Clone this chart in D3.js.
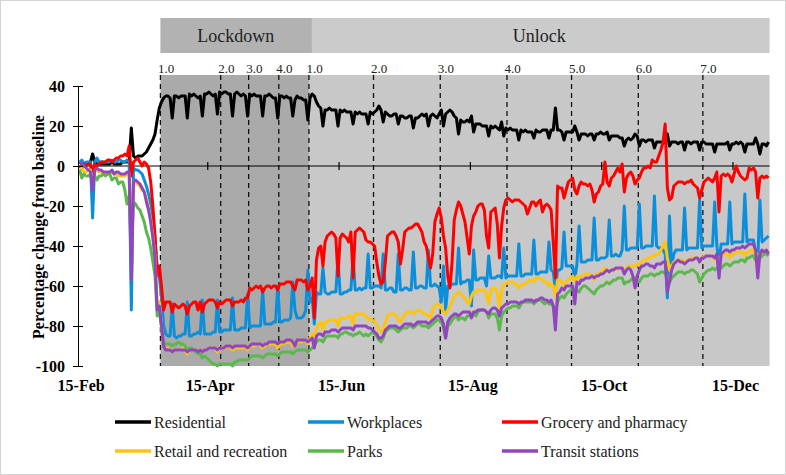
<!DOCTYPE html>
<html lang="en">
<head>
<meta charset="UTF-8">
<title>Mobility change from baseline, 2020</title>
<script src="https://d3js.org/d3.v7.min.js"></script>
<style>
  body { margin: 0; background: #fff; }
  svg { display: block; font-family: "Liberation Serif", "Times New Roman", serif; }
</style>
</head>
<body>
<div id="chart"></div>
<script>
// daily values from 15-Feb-2020, one row per week (Sat..Fri)
const startDate = "2020-02-15";

const residential = [
  1,2,1,1,1,2,6,
  2,1,1,1,1,1,1,
  1,2,1,1,1,1,2,
  2,2,3,19,5,4,5,
  5,5,6,7,9,11,13,
  16,23,29,32,34,35,35,
  34,24,35,35,34,35,35,
  35,24,36,35,36,35,34,
  35,25,36,36,37,36,35,
  36,26,37,36,37,37,36,
  36,25,36,37,36,35,36,
  35,25,36,35,36,35,35,
  35,25,35,35,36,35,34,
  34,24,35,35,34,35,34,
  34,25,33,35,34,34,33,
  33,23,34,36,35,32,30,
  29,20,28,28,29,28,28,
  28,20,28,27,28,27,27,
  27,21,27,26,27,26,26,
  26,21,27,26,27,28,30,
  28,22,27,26,25,25,26,
  26,21,25,25,24,24,25,
  25,19,24,24,25,26,25,
  26,20,25,26,25,24,26,
  28,20,26,27,28,27,25,
  24,16,23,22,22,23,22,
  25,17,21,21,21,20,20,
  20,15,20,19,20,19,18,
  22,15,19,18,19,18,18,
  18,13,18,17,18,17,17,
  17,14,18,17,17,18,18,
  18,14,18,18,29,18,18,
  17,13,17,17,17,17,20,
  17,13,16,16,16,15,16,
  16,13,16,16,17,16,16,
  17,13,15,15,15,15,14,
  14,10,13,14,13,14,16,
  15,10,13,13,12,13,13,
  13,9,12,12,12,12,13,
  16,10,12,12,12,11,12,
  12,8,12,12,11,12,12,
  12,8,12,12,11,11,11,
  11,7,11,11,11,11,11,
  12,8,11,11,12,11,12,
  11,7,11,11,11,11,14,
  11,6,11,11,10,12
];

const workplaces = [
  2,3,1,2,2,2,-26,
  2,4,2,2,2,2,2,
  2,3,2,2,3,3,2,
  2,3,2,-72,-1,-2,-2,
  -3,-4,-7,-10,-14,-19,-26,
  -36,-50,-55,-66,-80,-84,-85,
  -85,-69,-85,-86,-85,-85,-84,
  -84,-68,-85,-85,-84,-84,-83,
  -84,-67,-84,-84,-84,-84,-83,
  -83,-67,-83,-83,-82,-82,-82,
  -82,-66,-82,-82,-82,-81,-81,
  -81,-64,-81,-80,-80,-80,-80,
  -80,-62,-79,-79,-79,-79,-78,
  -78,-60,-78,-78,-77,-77,-77,
  -76,-58,-72,-76,-76,-76,-75,
  -72,-52,-68,-66,-79,-63,-64,
  -64,-51,-63,-64,-64,-63,-63,
  -63,-46,-64,-64,-63,-63,-62,
  -62,-45,-62,-62,-61,-62,-61,
  -61,-44,-61,-61,-60,-60,-60,
  -61,-44,-62,-62,-61,-61,-63,
  -63,-44,-62,-62,-61,-61,-62,
  -62,-43,-61,-61,-60,-60,-61,
  -61,-42,-60,-60,-59,-60,-61,
  -68,-50,-72,-60,-60,-59,-59,
  -59,-41,-59,-58,-58,-57,-57,
  -70,-42,-57,-57,-56,-56,-56,
  -60,-45,-56,-56,-56,-55,-55,
  -56,-41,-56,-55,-55,-55,-55,
  -55,-39,-55,-55,-54,-54,-54,
  -54,-37,-54,-54,-53,-53,-53,
  -53,-38,-52,-53,-62,-52,-52,
  -51,-33,-50,-50,-50,-50,-57,
  -49,-30,-48,-48,-48,-47,-47,
  -47,-26,-47,-47,-46,-46,-46,
  -45,-27,-45,-45,-44,-45,-45,
  -42,-20,-42,-42,-41,-41,-41,
  -41,-19,-41,-41,-40,-40,-40,
  -40,-15,-40,-41,-41,-42,-44,
  -66,-25,-50,-44,-42,-42,-42,
  -42,-21,-42,-41,-41,-41,-41,
  -41,-17,-41,-40,-40,-40,-40,
  -40,-18,-40,-48,-39,-39,-39,
  -39,-18,-39,-38,-38,-38,-38,
  -38,-14,-38,-37,-37,-37,-44,
  -48,-17,-38,-37,-36,-35
];

const grocery = [
  0,-1,1,0,1,1,-3,
  1,0,1,2,2,2,3,
  3,2,3,4,4,5,5,
  6,5,10,-5,2,3,4,
  2,0,2,1,-1,-8,-20,
  -35,-55,-50,-60,-72,-68,-68,
  -68,-73,-69,-70,-71,-70,-69,
  -70,-74,-70,-69,-68,-68,-72,
  -68,-73,-69,-68,-67,-67,-67,
  -68,-71,-68,-69,-68,-67,-67,
  -67,-70,-68,-68,-68,-67,-68,
  -66,-66,-61,-62,-61,-60,-61,
  -60,-63,-61,-60,-60,-61,-60,
  -60,-62,-59,-59,-59,-58,-58,
  -58,-60,-62,-57,-57,-57,-58,
  -57,-62,-60,-56,-76,-47,-41,
  -40,-50,-38,-35,-34,-33,-34,
  -36,-55,-36,-34,-35,-36,-38,
  -33,-56,-33,-32,-31,-32,-33,
  -37,-38,-38,-39,-40,-48,-55,
  -59,-58,-48,-35,-34,-33,-33,
  -35,-38,-49,-42,-33,-32,-31,
  -31,-30,-29,-29,-31,-33,-38,
  -40,-46,-51,-44,-28,-24,-21,
  -26,-35,-41,-55,-61,-48,-27,
  -22,-18,-20,-24,-28,-36,-44,
  -30,-25,-23,-20,-19,-19,-22,
  -35,-41,-23,-22,-21,-29,-46,
  -30,-21,-17,-16,-17,-18,-17,
  -17,-17,-18,-19,-20,-24,-21,
  -18,-18,-20,-18,-17,-23,-20,
  -19,-20,-22,-38,-56,-10,-11,
  -11,-16,-12,-8,-7,-6,-12,
  -14,-10,-8,-9,-9,-10,-9,
  -12,-18,-14,-13,-10,-9,2,
  -8,-10,-6,-5,-3,-1,-3,
  1,-13,-6,-4,-3,-5,-9,
  -7,-6,-3,-1,-1,0,-1,
  3,2,2,5,8,12,21,
  -11,-17,-16,-10,-9,-8,-8,
  -8,-9,-8,-8,-7,-9,-10,
  -11,-16,-12,-8,-7,-6,-7,
  -8,-6,-3,-23,-5,-4,-5,
  -4,-5,-8,-4,0,-3,-5,
  -6,-7,-6,-1,-2,-1,-3,
  -16,-6,-5,-6,-5,-6
];

const retail = [
  -2,-1,-3,-3,-2,-2,-8,
  -3,-2,-3,-3,-4,-4,-4,
  -4,-3,-4,-4,-5,-5,-5,
  -5,-4,-4,-42,-8,-8,-9,
  -10,-12,-13,-16,-21,-27,-35,
  -45,-70,-68,-80,-90,-91,-91,
  -92,-93,-92,-92,-92,-92,-91,
  -92,-94,-92,-92,-92,-92,-93,
  -92,-93,-92,-92,-91,-91,-91,
  -91,-93,-91,-91,-91,-91,-90,
  -91,-92,-91,-91,-91,-91,-91,
  -90,-92,-90,-90,-90,-89,-89,
  -90,-91,-90,-89,-89,-89,-89,
  -89,-91,-89,-89,-89,-88,-88,
  -88,-90,-90,-88,-88,-88,-87,
  -87,-89,-86,-84,-88,-81,-79,
  -78,-82,-78,-78,-77,-77,-77,
  -77,-80,-76,-76,-76,-76,-75,
  -75,-79,-74,-74,-74,-74,-74,
  -75,-77,-76,-77,-78,-79,-82,
  -83,-82,-78,-75,-74,-74,-74,
  -75,-77,-78,-76,-74,-73,-73,
  -73,-74,-73,-72,-72,-73,-74,
  -74,-75,-76,-72,-70,-69,-69,
  -71,-73,-74,-72,-70,-68,-65,
  -64,-63,-64,-65,-66,-68,-69,
  -65,-63,-63,-62,-62,-62,-62,
  -64,-69,-62,-61,-61,-63,-71,
  -62,-59,-59,-58,-58,-58,-59,
  -59,-61,-60,-59,-59,-58,-57,
  -57,-58,-56,-56,-56,-57,-58,
  -58,-60,-59,-60,-65,-57,-57,
  -58,-60,-58,-57,-56,-55,-58,
  -55,-56,-55,-55,-54,-54,-54,
  -55,-57,-54,-54,-53,-53,-51,
  -52,-53,-52,-52,-52,-51,-51,
  -51,-53,-51,-50,-50,-50,-50,
  -49,-50,-48,-47,-47,-46,-46,
  -45,-45,-44,-44,-42,-40,-38,
  -46,-52,-50,-48,-48,-48,-47,
  -47,-49,-47,-47,-46,-46,-46,
  -46,-48,-46,-45,-45,-45,-45,
  -45,-47,-45,-52,-45,-44,-44,
  -44,-46,-44,-44,-43,-43,-43,
  -43,-45,-43,-43,-42,-42,-48,
  -44,-45,-43,-43,-42,-43
];

const parks = [
  -2,-6,-4,-5,-5,-4,-8,
  -5,-7,-5,-5,-4,-5,-4,
  -4,-7,-6,-6,-9,-8,-8,
  -12,-19,-15,-40,-18,-19,-21,
  -22,-25,-28,-33,-36,-41,-48,
  -55,-75,-72,-80,-88,-89,-89,
  -89,-90,-89,-89,-88,-89,-89,
  -90,-92,-91,-91,-92,-93,-94,
  -94,-96,-95,-96,-97,-98,-99,
  -99,-100,-99,-99,-99,-99,-99,
  -99,-100,-98,-98,-97,-97,-97,
  -97,-97,-96,-95,-95,-95,-95,
  -95,-96,-95,-94,-94,-94,-94,
  -94,-95,-94,-93,-93,-93,-93,
  -93,-94,-93,-92,-92,-92,-92,
  -92,-93,-92,-91,-90,-88,-87,
  -87,-88,-86,-85,-85,-85,-85,
  -85,-86,-84,-84,-83,-83,-84,
  -84,-85,-84,-84,-83,-84,-85,
  -84,-85,-84,-83,-84,-85,-87,
  -88,-86,-83,-82,-81,-81,-81,
  -82,-83,-82,-81,-81,-81,-80,
  -80,-81,-80,-79,-79,-80,-80,
  -80,-81,-80,-79,-78,-77,-77,
  -78,-81,-86,-80,-79,-77,-76,
  -75,-77,-76,-76,-77,-75,-75,
  -74,-74,-75,-73,-72,-72,-72,
  -73,-76,-74,-74,-74,-76,-82,
  -75,-73,-72,-71,-71,-70,-70,
  -70,-71,-69,-68,-68,-68,-68,
  -68,-69,-68,-67,-67,-68,-69,
  -68,-69,-69,-70,-74,-68,-66,
  -65,-66,-64,-63,-62,-61,-64,
  -62,-63,-61,-60,-60,-61,-62,
  -63,-64,-62,-61,-60,-60,-59,
  -58,-59,-58,-57,-57,-56,-56,
  -56,-59,-58,-58,-57,-56,-56,
  -57,-58,-56,-55,-55,-55,-54,
  -54,-55,-54,-54,-53,-53,-54,
  -55,-58,-56,-55,-54,-53,-53,
  -53,-54,-53,-53,-52,-52,-53,
  -54,-58,-56,-54,-53,-52,-52,
  -51,-52,-51,-50,-51,-50,-49,
  -49,-50,-49,-48,-48,-48,-47,
  -47,-48,-46,-46,-45,-45,-47,
  -45,-46,-45,-44,-44,-45
];

const transit = [
  2,1,0,-1,-2,-3,-12,
  -2,-1,-2,-2,-3,-3,-3,
  -3,-2,-4,-3,-3,-4,-4,
  -4,-3,-3,-57,-8,-7,-8,
  -9,-11,-13,-18,-22,-28,-36,
  -46,-72,-70,-80,-90,-92,-92,
  -92,-93,-92,-92,-92,-92,-92,
  -92,-93,-92,-92,-92,-92,-93,
  -92,-93,-92,-92,-91,-91,-91,
  -91,-92,-91,-91,-91,-90,-90,
  -90,-91,-90,-90,-90,-90,-90,
  -90,-91,-90,-89,-89,-89,-89,
  -89,-90,-89,-89,-88,-88,-88,
  -88,-89,-88,-88,-88,-87,-87,
  -87,-88,-90,-87,-87,-87,-87,
  -87,-88,-87,-86,-91,-85,-84,
  -84,-85,-83,-83,-83,-82,-82,
  -82,-83,-82,-81,-81,-81,-81,
  -81,-82,-80,-80,-80,-80,-80,
  -80,-81,-81,-82,-83,-84,-86,
  -86,-85,-82,-81,-80,-80,-80,
  -80,-81,-81,-80,-79,-79,-79,
  -79,-80,-79,-78,-78,-78,-78,
  -78,-79,-78,-77,-76,-75,-75,
  -76,-79,-86,-78,-76,-75,-74,
  -74,-75,-74,-73,-73,-73,-73,
  -76,-73,-73,-72,-72,-72,-72,
  -73,-74,-72,-71,-71,-72,-75,
  -71,-70,-69,-69,-68,-68,-68,
  -68,-69,-68,-68,-67,-67,-67,
  -67,-68,-67,-67,-66,-66,-67,
  -67,-68,-67,-70,-82,-64,-63,
  -61,-62,-60,-60,-60,-60,-69,
  -58,-59,-57,-57,-56,-56,-56,
  -55,-56,-55,-55,-54,-54,-53,
  -52,-53,-52,-52,-51,-51,-51,
  -51,-54,-52,-51,-52,-55,-61,
  -55,-52,-50,-50,-49,-49,-50,
  -50,-51,-49,-49,-49,-48,-48,
  -63,-58,-52,-49,-48,-47,-48,
  -48,-49,-48,-47,-47,-47,-46,
  -46,-48,-46,-46,-45,-45,-45,
  -45,-46,-44,-56,-44,-43,-42,
  -42,-43,-42,-42,-41,-41,-41,
  -40,-41,-40,-39,-39,-39,-42,
  -56,-44,-42,-43,-42,-44
];

const seriesNames = ["Residential", "Workplaces", "Grocery and pharmacy",
                     "Retail and recreation", "Parks", "Transit stations"];

const lockdownDates = ["2020-03-24", "2020-04-21", "2020-05-04", "2020-05-18"];
const lockdownLabels = ["1.0", "2.0", "3.0", "4.0"];
const unlockDates = ["2020-06-01", "2020-07-01", "2020-08-01", "2020-09-01",
                     "2020-10-01", "2020-11-01", "2020-12-01"];
const unlockLabels = ["1.0", "2.0", "3.0", "4.0", "5.0", "6.0", "7.0"];
const phaseNames = ["Lockdown", "Unlock"];

const xTickDates = ["2020-02-15", "2020-04-15", "2020-06-15", "2020-08-15", "2020-10-15", "2020-12-15"];
const xTickLabels = ["15-Feb", "15-Apr", "15-Jun", "15-Aug", "15-Oct", "15-Dec"];
const yTicks = [40, 20, 0, -20, -40, -60, -80, -100];

const w = 786, h = 475;
const colors = ["#000000", "#0c8fdb", "#ff0000", "#ffc40c", "#5cb84c", "#9146bf"];
const allSeries = [residential, workplaces, grocery, retail, parks, transit];

const parse = d3.utcParse("%Y-%m-%d");
const t0 = parse(startDate);
const endDate = parse("2021-01-01");

const svg = d3.select("#chart").append("svg")
  .attr("width", w)
  .attr("height", h);

svg.append("rect")
  .attr("x", 0.5).attr("y", 0.5)
  .attr("width", w - 1).attr("height", h - 1)
  .attr("fill", "#fff")
  .attr("stroke", "#d4d4d4");

const x = d3.scaleUtc().domain([t0, endDate]).range([78.6, 769.6]);
const y = d3.scaleLinear().domain([-100, 40]).range([366, 86]);
const plotTop = 75;
const plotRight = x.range()[1];

const lockStart = parse(lockdownDates[0]);
const unlockStart = parse(unlockDates[0]);

// phase header boxes
svg.append("rect")
  .attr("x", x(lockStart)).attr("y", 18)
  .attr("width", x(unlockStart) - x(lockStart) + 3).attr("height", 35)
  .attr("fill", "#b2b2b2");
svg.append("rect")
  .attr("x", x(unlockStart) + 3).attr("y", 18)
  .attr("width", plotRight - x(unlockStart) - 3).attr("height", 35)
  .attr("fill", "#cbcbcb");
svg.append("text")
  .attr("x", (x(lockStart) + x(unlockStart)) / 2 + 1).attr("y", 42)
  .attr("text-anchor", "middle").attr("font-size", 18).attr("fill", "#222")
  .text(phaseNames[0]);
svg.append("text")
  .attr("x", (x(unlockStart) + plotRight) / 2).attr("y", 42)
  .attr("text-anchor", "middle").attr("font-size", 18).attr("fill", "#222")
  .text(phaseNames[1]);

// shaded periods
svg.append("rect")
  .attr("x", x(lockStart)).attr("y", plotTop)
  .attr("width", x(unlockStart) - x(lockStart)).attr("height", y(-100) - plotTop)
  .attr("fill", "#aaaaaa");
svg.append("rect")
  .attr("x", x(unlockStart)).attr("y", plotTop)
  .attr("width", plotRight - x(unlockStart)).attr("height", y(-100) - plotTop)
  .attr("fill", "#c8c8c8");

// phase markers
const phases = lockdownDates.map((d, i) => ({ date: parse(d), label: lockdownLabels[i] }))
  .concat(unlockDates.map((d, i) => ({ date: parse(d), label: unlockLabels[i] })));

svg.selectAll(".phase-line")
  .data(phases)
  .enter()
  .append("line")
  .attr("class", "phase-line")
  .attr("x1", d => x(d.date)).attr("x2", d => x(d.date))
  .attr("y1", plotTop).attr("y2", y(-100))
  .attr("stroke", "#111")
  .attr("stroke-width", 1.3)
  .attr("stroke-dasharray", "5,4");

svg.selectAll(".phase-label")
  .data(phases)
  .enter()
  .append("text")
  .attr("class", "phase-label")
  .attr("x", d => x(d.date) - 2.5)
  .attr("y", 73)
  .attr("font-size", 13)
  .attr("fill", "#222")
  .text(d => d.label);

// zero line with ticks
svg.append("line")
  .attr("x1", x(t0)).attr("x2", plotRight)
  .attr("y1", y(0)).attr("y2", y(0))
  .attr("stroke", "#000").attr("stroke-width", 1.2);
svg.selectAll(".zero-tick")
  .data(xTickDates.slice(1))
  .enter()
  .append("line")
  .attr("x1", d => x(parse(d))).attr("x2", d => x(parse(d)))
  .attr("y1", y(0) - 4).attr("y2", y(0) + 4)
  .attr("stroke", "#000").attr("stroke-width", 1.2);

// series
const line = d3.line()
  .x((v, i) => x(d3.utcHour.offset(d3.utcDay.offset(t0, i), 12)))
  .y(v => y(v));

svg.selectAll(".series")
  .data(allSeries)
  .enter()
  .append("path")
  .attr("class", "series")
  .attr("d", d => line(d))
  .attr("fill", "none")
  .attr("stroke", (d, i) => colors[i])
  .attr("stroke-width", 3)
  .attr("stroke-linejoin", "round");

// y axis
const yAxis = d3.axisLeft(y)
  .tickValues(yTicks)
  .tickSize(5)
  .tickPadding(8)
  .tickFormat(d => d < 0 ? "-" + Math.abs(d) : String(d));

const yg = svg.append("g")
  .attr("transform", `translate(${x(t0) - 0.6},0)`)
  .call(yAxis);
yg.select(".domain").attr("d", `M0.5,${y(40)}V${y(-100)}`).attr("stroke", "#000");
yg.selectAll(".tick line").attr("x1", 5).attr("x2", -5).attr("stroke", "#000");
yg.selectAll(".tick text")
  .attr("font-family", "'Liberation Serif', 'Times New Roman', serif")
  .attr("font-size", 16)
  .attr("font-weight", "bold")
  .attr("fill", "#000");

// x labels
const xAxis = d3.axisBottom(x)
  .tickValues(xTickDates.map(parse))
  .tickSize(0)
  .tickPadding(0)
  .tickFormat((d, i) => xTickLabels[i]);

const xg = svg.append("g")
  .attr("transform", "translate(2,380)")
  .call(xAxis);
xg.select(".domain").remove();
xg.selectAll(".tick text")
  .attr("font-family", "'Liberation Serif', 'Times New Roman', serif")
  .attr("font-size", 16)
  .attr("font-weight", "bold")
  .attr("fill", "#000");

// y title
svg.append("text")
  .attr("transform", "translate(44,227) rotate(-90)")
  .attr("text-anchor", "middle")
  .attr("font-size", 16)
  .attr("font-weight", "bold")
  .text("Percentage change from baseline");

// legend
const legendX = [115, 308, 502];
const legendY = [422, 451];
const legend = svg.selectAll(".legend-item")
  .data(seriesNames)
  .enter()
  .append("g")
  .attr("class", "legend-item")
  .attr("transform", (d, i) => `translate(${legendX[i % 3]},${legendY[Math.floor(i / 3)]})`);
legend.append("line")
  .attr("x1", 0).attr("x2", 36)
  .attr("stroke", (d, i) => colors[i])
  .attr("stroke-width", 3.5);
legend.append("text")
  .attr("x", 39).attr("y", 5.5)
  .attr("font-size", 16)
  .attr("fill", "#222")
  .text(d => d);
</script>
</body>
</html>
